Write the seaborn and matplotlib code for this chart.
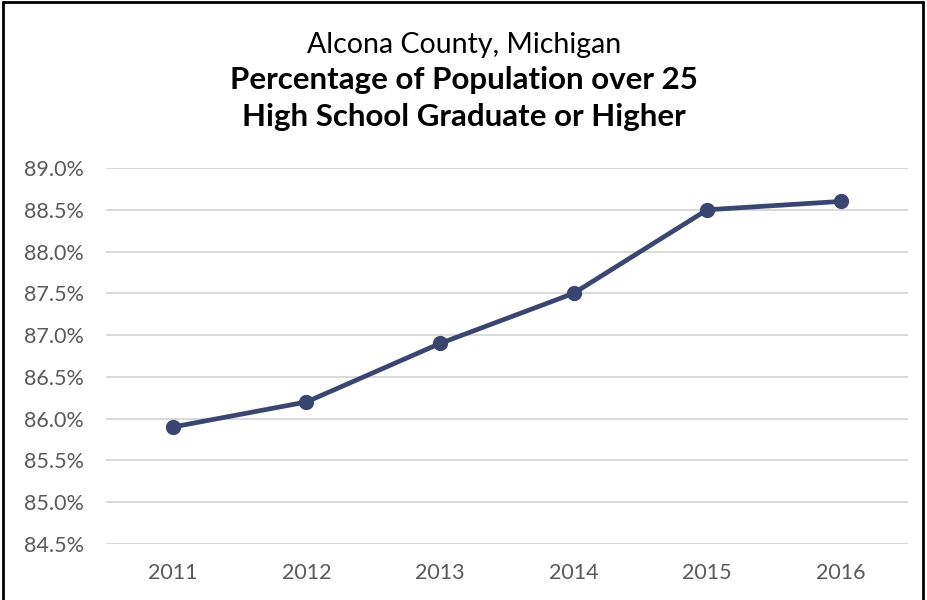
import pandas as pd
import matplotlib.pyplot as plt
import seaborn as sns
from matplotlib.lines import Line2D
from matplotlib.ticker import FuncFormatter

# Data
years = ["2011", "2012", "2013", "2014", "2015", "2016"]
hs_grad_pct = [85.9, 86.2, 86.9, 87.5, 88.5, 88.6]
y_ticks = [84.5, 85.0, 85.5, 86.0, 86.5, 87.0, 87.5, 88.0, 88.5, 89.0]

df = pd.DataFrame({"Year": years, "Pct": hs_grad_pct})

sns.set_style("white")
plt.rcParams["font.family"] = ["Lato", "DejaVu Sans"]

fig = plt.figure(figsize=(9.28, 6), dpi=100)
ax = fig.add_axes([0.1142, 0.0933, 0.8638, 0.6267])

sns.lineplot(
    data=df, x="Year", y="Pct", ax=ax,
    color="#3A4570", linewidth=3.4,
    marker="o", markersize=11, markeredgewidth=0,
)

ax.set_xlim(-0.5, len(years) - 0.5)
ax.set_ylim(84.5, 89.0)
ax.set_yticks(y_ticks)
ax.yaxis.set_major_formatter(FuncFormatter(lambda v, p: f"{v:.1f}%"))
ax.grid(axis="y", color="#D9D9D9", linewidth=1.4)
ax.set_axisbelow(True)
for s in ax.spines.values():
    s.set_visible(False)
ax.tick_params(axis="both", length=0, labelsize=15.5, labelcolor="#595959")
ax.tick_params(axis="y", pad=16)
ax.tick_params(axis="x", pad=14)
ax.set_xlabel("")
ax.set_ylabel("")

# Titles
fig.text(0.5, 0.925, "Alcona County, Michigan", ha="center", va="center",
         fontsize=20.5, color="#000000")
fig.text(0.5, 0.866, "Percentage of Population over 25", ha="center",
         va="center", fontsize=22.5, fontweight="bold", color="#000000")
fig.text(0.5, 0.805, "High School Graduate or Higher", ha="center",
         va="center", fontsize=22.5, fontweight="bold", color="#000000")

# Chart border (bottom edge is cut off in the original)
for xs, ys in [([0.0035, 0.0035], [0, 0.996]),
               ([0.0035, 0.9945], [0.996, 0.996]),
               ([0.9945, 0.9945], [0, 0.996])]:
    fig.add_artist(Line2D(xs, ys, color="black", linewidth=2,
                          transform=fig.transFigure))

fig.savefig("out.png", dpi=100)
